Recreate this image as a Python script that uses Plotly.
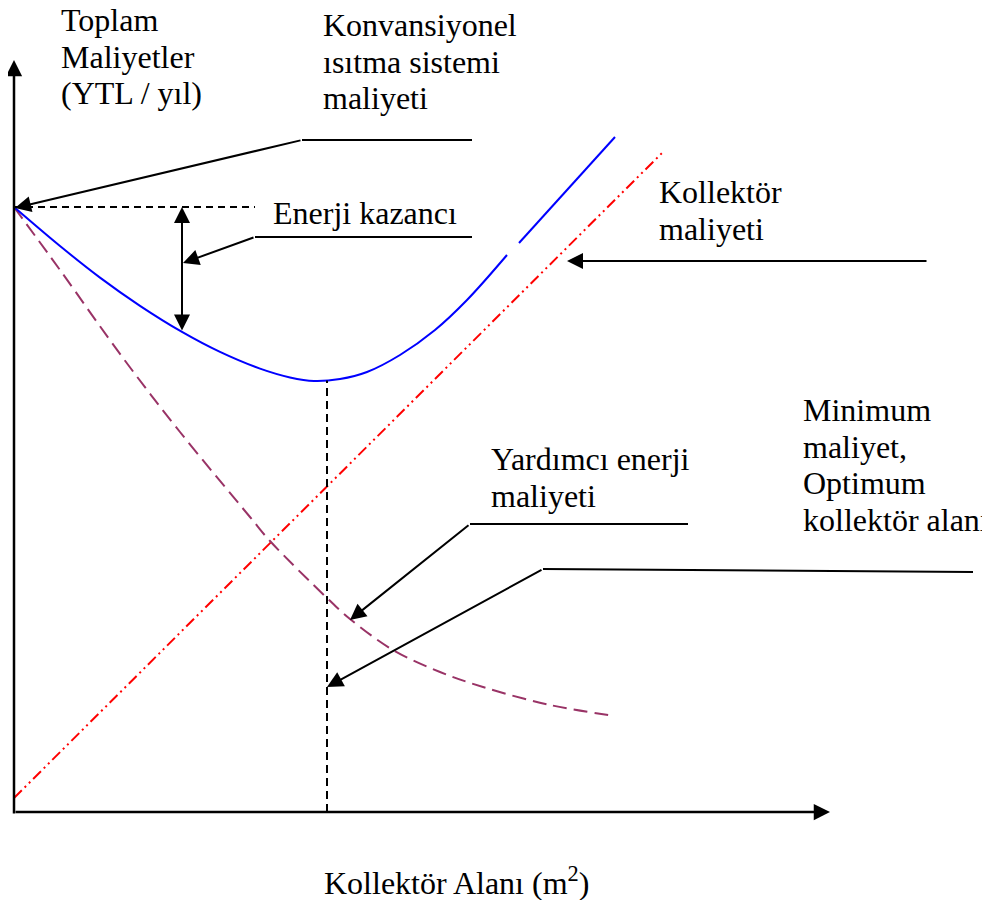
import plotly.graph_objects as go

# Schematic units: x = collector area, y = annual cost (arbitrary units, origin at axes corner)
total_area = [0, 46, 86, 126, 168, 206, 246, 276, 300, 326, 353, 386, 421, 453, 493, None, 505, 553, 601]
total_cost = [605, 566, 534.4, 506.2, 480.1, 460.1, 443.4, 434.6, 431, 433, 440, 457, 482, 512, 557, None, 569, 622, 675]

aux_area = [0, 46, 109, 166, 236, 256, 313, 336, 379, 426, 469, 536, 601]
aux_cost = [605, 542, 454, 380, 295, 271, 214, 193, 162, 140, 125, 107, 96]

coll_area = [0, 649]
coll_cost = [14, 660]

conv_level = 605          # conventional heating cost level
conv_line_end = 241
opt_area = 313            # optimum collector area
min_cost = 431.5
gain_x = 168
gain_bottom = 480

x_axis_end = 816
y_axis_end = 752

FONT = dict(family="Liberation Serif, Times New Roman, serif", size=32, color="black")

fig = go.Figure()

# curves
fig.add_trace(go.Scatter(x=coll_area, y=coll_cost, mode="lines",
                         line=dict(color="#FF0000", width=2, dash="11px,4px,2px,4px,2px,4px")))
fig.add_trace(go.Scatter(x=aux_area, y=aux_cost, mode="lines", line_shape="spline",
                         line=dict(color="#993366", width=2, dash="14px,7px")))
fig.add_trace(go.Scatter(x=total_area, y=total_cost, mode="lines", line_shape="spline",
                         connectgaps=False, line=dict(color="#0000FF", width=2)))

# dashed helper lines
fig.add_trace(go.Scatter(x=[0, conv_line_end], y=[conv_level, conv_level], mode="lines",
                         line=dict(color="black", width=2, dash="7px,5px")))
fig.add_trace(go.Scatter(x=[opt_area, opt_area], y=[0, min_cost], mode="lines",
                         line=dict(color="black", width=2, dash="8px,5px")))

# leader horizontal segments
leaders = [
    ([288, 458], [672, 672]),
    ([241, 458], [575, 575]),
    ([456, 674], [288, 288]),
    ([529, 959], [243, 240]),
]
for lx, ly in leaders:
    fig.add_trace(go.Scatter(x=lx, y=ly, mode="lines", line=dict(color="black", width=2)))

annotations = []

def arrow(x0, y0, x1, y1, width=2, side="end", size=1.6):
    annotations.append(dict(x=x1, y=y1, ax=x0, ay=y0, xref="x", yref="y", axref="x", ayref="y",
                            text="", showarrow=True, arrowhead=2, arrowsize=size, arrowwidth=width,
                            arrowcolor="black", arrowside=side, standoff=0, startstandoff=0))

# axes
arrow(0, -3, 0, y_axis_end, width=2.5, size=1.3)
arrow(0, 0, x_axis_end, 0, width=2.5, size=1.3)
# energy gain double arrow
arrow(gain_x, gain_bottom, gain_x, conv_level, side="end+start")
# leader arrows
arrow(288, 672, 1, 604)
arrow(241, 575, 169, 549)
arrow(914, 551, 553, 551)
arrow(456, 288, 336, 192)
arrow(529, 243, 313, 125)

def label(x, y, t):
    annotations.append(dict(x=x, y=y, xref="x", yref="y", text=t, showarrow=False,
                            xanchor="left", yanchor="middle", font=FONT, borderpad=0))

label(46, 792, "Toplam")
label(46, 755.5, "Maliyetler")
label(46, 719, "(YTL / yıl)")
label(308, 787, "Konvansiyonel")
label(308, 750.5, "ısıtma sistemi")
label(308, 714, "maliyeti")
label(258, 599, "Enerji kazancı")
label(644, 620, "Kollektör")
label(644, 583.5, "maliyeti")
label(788, 402, "Minimum")
label(788, 365.5, "maliyet,")
label(788, 329, "Optimum")
label(788, 292.5, "kollektör alanı")
label(476, 353, "Yardımcı enerji")
label(476, 316.5, "maliyeti")
label(309, -69, "Kollektör Alanı (m<sup>2</sup>)")

# page body adds an 8px offset; ranges are shifted so the axes corner lands at (14, 812)
fig.update_layout(
    width=990, height=900,
    margin=dict(l=0, r=0, t=0, b=0),
    paper_bgcolor="white", plot_bgcolor="white",
    showlegend=False,
    xaxis=dict(range=[-6, 984], visible=False, fixedrange=True),
    yaxis=dict(range=[-96, 804], visible=False, fixedrange=True),
    annotations=annotations,
)

fig.write_html("out.html")
